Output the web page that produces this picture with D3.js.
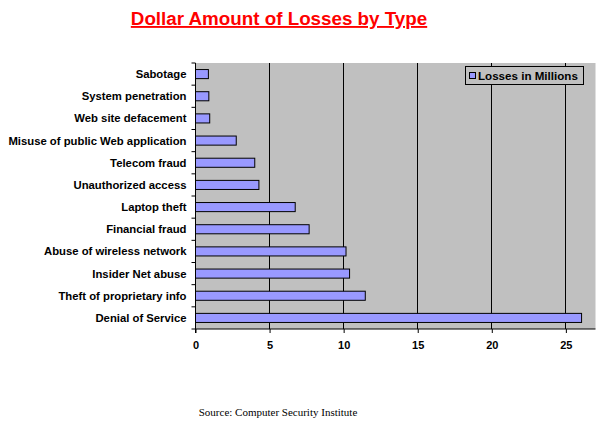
<!DOCTYPE html>
<html><head><meta charset="utf-8">
<script src="https://cdn.jsdelivr.net/npm/d3@7"></script>
<style>body{margin:0;background:#fff;}svg{display:block;}</style>
</head><body>
<svg id="c" width="607" height="437"></svg>
<script>
const categories = ["Sabotage","System penetration","Web site defacement","Misuse of public Web application","Telecom fraud","Unauthorized access","Laptop theft","Financial fraud","Abuse of wireless network","Insider Net abuse","Theft of proprietary info","Denial of Service"];
const losses = [0.87,0.90,0.96,2.75,4.0,4.28,6.73,7.67,10.16,10.4,11.46,26.06];
const xTicks = [0,5,10,15,20,25];
const seriesName = "Losses in Millions";
const titleText = "Dollar Amount of Losses by Type";
const sourceText = "Source: Computer Security Institute";

const svg = d3.select("#c");
const L = 195.5, R = 595.5, T = 63, B = 329;
const x = d3.scaleLinear().domain([0,27]).range([L,R]);
const y = d3.scaleBand().domain(categories).range([T,B]).paddingInner(0.59).paddingOuter(0.295);

svg.append("rect").attr("x",L).attr("y",T).attr("width",R-L).attr("height",B-T).attr("fill","#c0c0c0");

// gridlines
svg.append("g").selectAll("line").data(xTicks.filter(d=>d>0)).join("line")
  .attr("x1",d=>x(d)).attr("x2",d=>x(d)).attr("y1",T).attr("y2",B)
  .attr("stroke","#000").attr("stroke-width",1).attr("shape-rendering","crispEdges");

// bars
svg.append("g").selectAll("rect").data(losses).join("rect")
  .attr("x",x(0)).attr("y",(d,i)=>y(categories[i]))
  .attr("width",d=>x(d)-x(0)).attr("height",y.bandwidth())
  .attr("fill","#9999ff").attr("stroke","#000").attr("stroke-width",1);

// left axis
const yAxis = svg.append("g").attr("transform",`translate(${L},0)`);
yAxis.append("line").attr("x1",0).attr("x2",0).attr("y1",T).attr("y2",B+4).attr("stroke","#000");
const step = (B-T)/categories.length;
yAxis.selectAll("line.t").data(d3.range(categories.length+1)).join("line").attr("class","t")
  .attr("x1",-4).attr("x2",0).attr("y1",i=>T+i*step).attr("y2",i=>T+i*step).attr("stroke","#000");
yAxis.selectAll("text").data(categories).join("text")
  .attr("x",-9).attr("y",d=>y(d)+y.bandwidth()/2).attr("dy","0.35em")
  .attr("text-anchor","end").attr("font-family","Liberation Sans, Arial, sans-serif")
  .attr("font-weight","bold").attr("font-size","11.3px").attr("fill","#000").text(d=>d);

// bottom axis
const xAxis = d3.axisBottom(x).tickValues(xTicks).tickSize(4).tickPadding(8).tickFormat(d3.format("d"));
const gx = svg.append("g").attr("transform",`translate(0,${B})`).call(xAxis);
gx.select(".domain").attr("d",`M${L-0.5},0H${R}`).attr("stroke","#000");
gx.selectAll("text").attr("font-family","Liberation Sans, Arial, sans-serif").attr("font-weight","bold").attr("font-size","11px").attr("fill","#000");

// legend
const lg = svg.append("g");
lg.append("rect").attr("x",465.5).attr("y",66.5).attr("width",118).attr("height",18).attr("fill","#c0c0c0").attr("stroke","#000");
lg.append("rect").attr("x",469.5).attr("y",72.5).attr("width",6).attr("height",6).attr("fill","#9999ff").attr("stroke","#000");
lg.append("text").attr("x",478).attr("y",79.5).attr("font-family","Liberation Sans, Arial, sans-serif")
  .attr("font-weight","bold").attr("font-size","11.6px").text(seriesName);

// title
svg.append("text").attr("x",279).attr("y",25).attr("text-anchor","middle")
  .attr("font-family","Liberation Sans, Arial, sans-serif").attr("font-weight","bold").attr("font-size","18.8px")
  .attr("fill","#ff0000").attr("text-decoration","underline").text(titleText);

// source
svg.append("text").attr("x",278).attr("y",416).attr("text-anchor","middle")
  .attr("font-family","Liberation Serif, Times New Roman, serif").attr("font-size","11px").attr("fill","#000").text(sourceText);
</script>
</body></html>
